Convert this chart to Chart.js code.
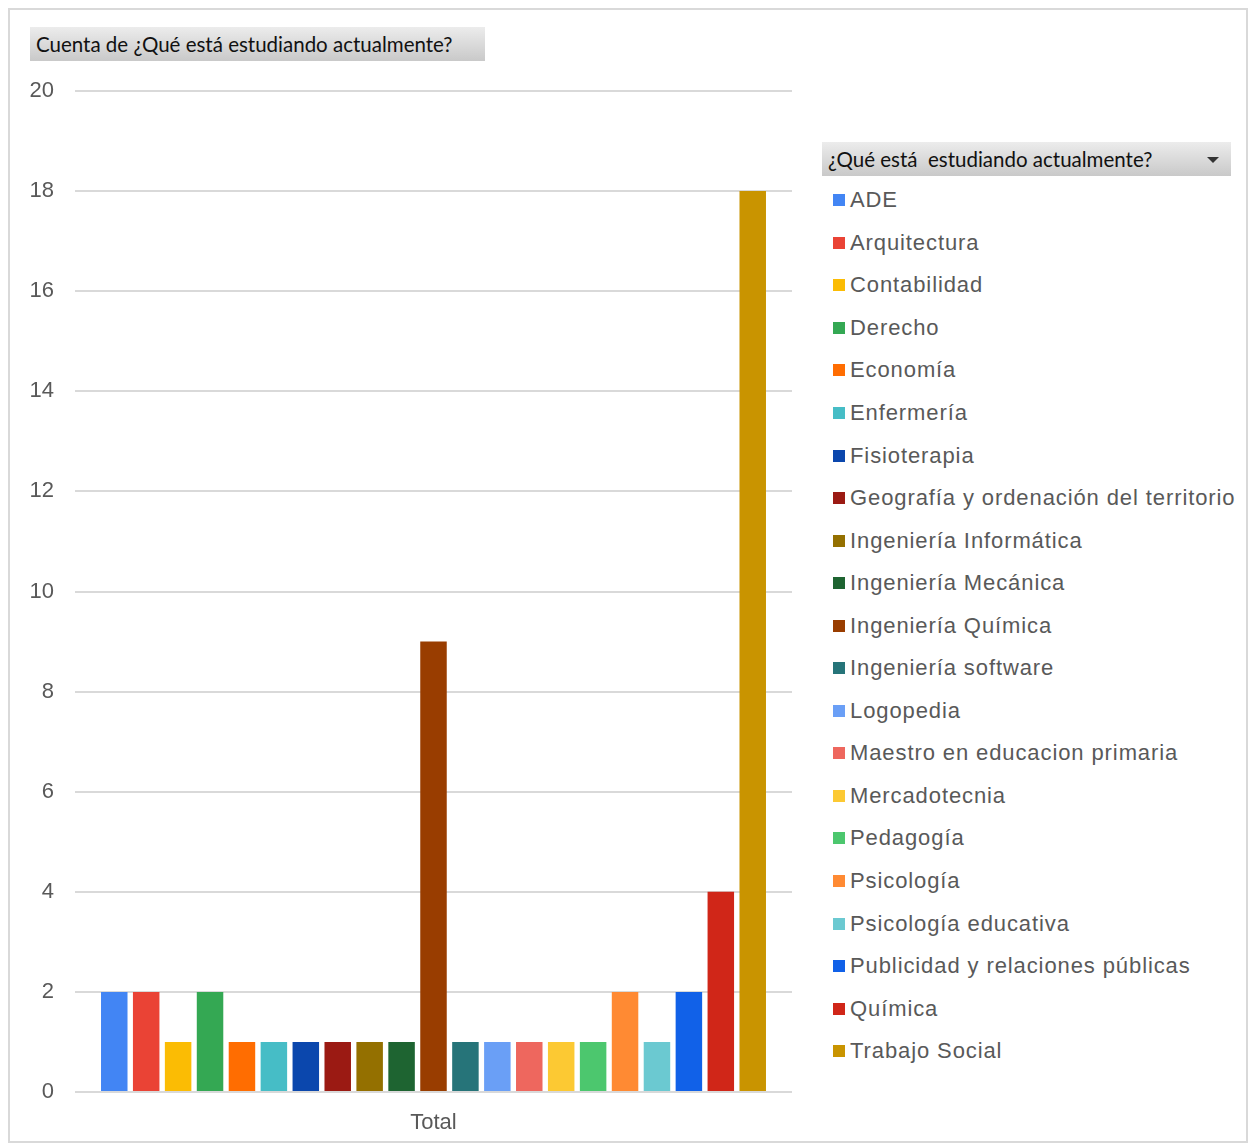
<!DOCTYPE html>
<html>
<head>
<meta charset="utf-8">
<script src="https://cdn.jsdelivr.net/npm/chart.js@4.4.0/dist/chart.umd.min.js"></script>
<style>
    html, body { margin: 0; padding: 0; background: #fff; }
    #frame {
        position: absolute; left: 8px; top: 8px;
        width: 1240px; height: 1135px;
        border: 2px solid #d9d9d9; box-sizing: border-box;
    }
    #chartWrap { position: absolute; left: 0; top: 0; width: 800px; height: 1147px; }
    .field-btn {
        position: absolute; height: 34px; box-sizing: border-box;
        background: linear-gradient(#ececec, #c9c9c9);
        font-family: Lato, "Noto Sans", sans-serif; font-size: 20.5px;
        color: #111; line-height: 34px; padding-left: 6px; white-space: pre;
    }
    #valueBtn { left: 30px; top: 27px; width: 455px; }
    #legendBtn { left: 822px; top: 142px; width: 409px; }
    #legendBtn .arrow {
        position: absolute; right: 12px; top: 15px;
        border-left: 6px solid transparent; border-right: 6px solid transparent;
        border-top: 6px solid #333;
    }
    #legend {
        position: absolute; left: 833px; top: 179px;
        font-family: "Liberation Sans", Arial, sans-serif; font-size: 22px; color: #595959;
    }
    .legend-row { height: 42.55px; display: flex; align-items: center; white-space: nowrap; letter-spacing: 0.9px; }
    .legend-row .swatch { width: 12px; height: 12px; margin-right: 5px; flex: none; }
</style>
</head>
<body>
<div id="frame"></div>
<div id="chartWrap"><canvas id="studiesChart"></canvas></div>
<div id="valueBtn" class="field-btn">Cuenta de ¿Qué está estudiando actualmente?</div>
<div id="legendBtn" class="field-btn">¿Qué está  estudiando actualmente?<span class="arrow"></span></div>
<div id="legend"></div>
<script>
const categories = ['Total'];

const studies = [
    'ADE', 'Arquitectura', 'Contabilidad', 'Derecho', 'Economía', 'Enfermería',
    'Fisioterapia', 'Geografía y ordenación del territorio', 'Ingeniería Informática',
    'Ingeniería Mecánica', 'Ingeniería Química', 'Ingeniería software', 'Logopedia',
    'Maestro en educacion primaria', 'Mercadotecnia', 'Pedagogía', 'Psicología',
    'Psicología educativa', 'Publicidad y relaciones públicas', 'Química', 'Trabajo Social'
];

const counts = [2, 2, 1, 2, 1, 1, 1, 1, 1, 1, 9, 1, 1, 1, 1, 1, 2, 1, 2, 4, 18];

const colors = [
    '#4285f4', '#ea4335', '#fbbc04', '#34a853', '#ff6d01', '#46bdc6',
    '#0b47ad', '#9b1a13', '#947000', '#1e6431', '#993d00', '#267479', '#6a9ff6',
    '#ee675e', '#fcc933', '#4cc76e', '#ff8a33', '#6bc9d1', '#1161e8', '#d02618', '#c99400'
];

const yTicks = [0, 2, 4, 6, 8, 10, 12, 14, 16, 18, 20];

// one dataset per study so each bar gets its own colour and legend entry
const datasets = studies.map((name, i) => ({
    label: name,
    data: [counts[i]],
    backgroundColor: colors[i],
    categoryPercentage: 0.935,
    barPercentage: 0.83
}));

new Chart(document.getElementById('studiesChart'), {
    type: 'bar',
    data: { labels: categories, datasets: datasets },
    options: {
        responsive: true,
        maintainAspectRatio: false,
        animation: false,
        layout: { padding: { left: 0, right: 8, top: 91, bottom: 10 } },
        plugins: { legend: { display: false }, tooltip: { enabled: false } },
        scales: {
            x: {
                grid: { display: false },
                border: { display: false },
                ticks: { color: '#595959', font: { family: 'Liberation Sans', size: 22 }, padding: 10 },
                afterFit: (scale) => { scale.height = 45; }
            },
            y: {
                min: 0,
                max: 20,
                afterBuildTicks: (scale) => { scale.ticks = yTicks.map(v => ({ value: v })); },
                grid: { color: '#d9d9d9', lineWidth: 2, drawTicks: false },
                border: { display: false },
                ticks: { color: '#595959', font: { family: 'Liberation Sans', size: 22 }, padding: 21 },
                afterFit: (scale) => { scale.width = 75; }
            }
        }
    }
});

// legend listing
document.getElementById('legend').innerHTML = studies.map((name, i) => `
    <div class="legend-row"><span class="swatch" style="background:${colors[i]}"></span>${name}</div>
`).join('');
</script>
</body>
</html>
